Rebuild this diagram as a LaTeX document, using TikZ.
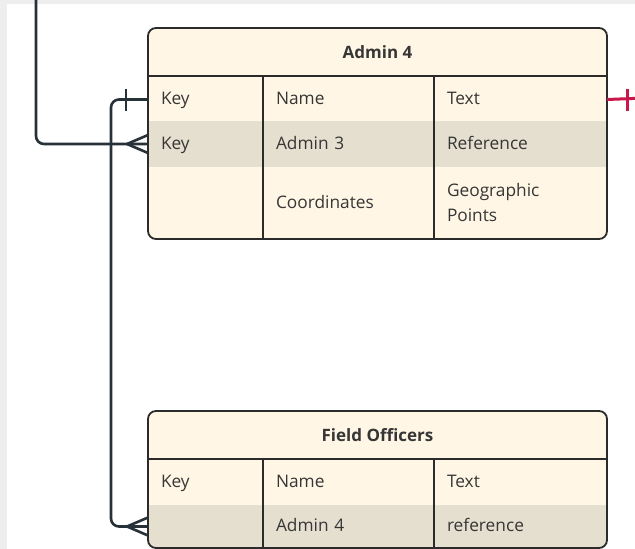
\documentclass[tikz,border=0pt]{standalone}
\usepackage{fontspec}
\setmainfont{Open Sans}
\usepackage{tikz}

\definecolor{cream}{HTML}{FFF6E5}
\definecolor{shade}{HTML}{E5DFCF}
\definecolor{edge}{HTML}{2B2B2B}
\definecolor{ink}{HTML}{363636}
\definecolor{wire}{HTML}{263238}
\definecolor{crimson}{HTML}{C8184B}
\definecolor{page}{HTML}{EEEEEE}

\newcommand{\crowfoot}[1]{%
  \draw [wire line] ([xshift=-21pt]#1.west) -- ([yshift=9pt]#1.west);
  \draw [wire line] ([xshift=-21pt]#1.west) -- ([yshift=-9pt]#1.west);}

\begin{document}
\begin{tikzpicture}[x=1pt, y=-1pt, font=\fontsize{17.3}{25}\selectfont,
  every node/.style={text=ink, inner sep=0pt, outer sep=0pt},
  frame/.style={rectangle, rounded corners=8pt, fill=cream, anchor=north west, minimum width=459pt},
  outline/.style={draw=edge, line width=1.8pt, rounded corners=8pt},
  rule/.style={draw=edge, line width=1.8pt},
  head/.style={rectangle, anchor=north west, minimum width=459pt, minimum height=48pt, font=\fontsize{17}{25}\selectfont\bfseries},
  cell/.style={rectangle, anchor=north west, inner xsep=13pt, align=left, execute at begin node=\strut},
  c1/.style={text width=89pt},
  c2/.style={text width=145pt},
  c3/.style={text width=147pt},
  wire line/.style={draw=wire, line width=2.6pt}]
  \useasboundingbox (0,0) rectangle (635,549);
  \clip (0,0) rectangle (635,549);
  \fill [page] (0,0) rectangle (635,549);
  \fill [white] (7,4) rectangle (640,560);

  \node (a4) [frame, minimum height=211pt] at (148,28) {};
  \node (a4head) [head] at (148,28) {Admin 4};
  \node (a4key1) [cell, c1, minimum height=45pt] at (148,77) {Key};
  \node (a4name) [cell, c2, minimum height=45pt] at (263,77) {Name};
  \node (a4text) [cell, c3, minimum height=45pt] at (434,77) {Text};
  \node (a4key2) [cell, c1, minimum height=46pt, fill=shade] at (148,121) {Key};
  \node (a4ref1) [cell, c2, minimum height=46pt, fill=shade] at (263,121) {Admin 3};
  \node (a4ref2) [cell, c3, minimum height=46pt, fill=shade] at (434,121) {Reference};
  \node (a4key3) [cell, c1, minimum height=72pt] at (148,167) {};
  \node (a4geo1) [cell, c2, minimum height=72pt] at (263,167) {Coordinates};
  \node (a4geo2) [cell, c3, minimum height=66pt] at (434,167) {Geographic\\Points};
  \draw [rule] (a4head.south west) -- (a4head.south east);
  \draw [rule] (a4key1.north east) -- (a4key3.south east);
  \draw [rule] (a4name.north east) -- (a4geo1.south east);
  \draw [outline] (a4.north west) rectangle (a4.south east);

  \node (fo) [frame, minimum height=137pt] at (148,411) {};
  \begin{scope}
    \clip [rounded corners=8pt] (fo.north west) rectangle (fo.south east);
    \node (fohead) [head] at (148,411) {Field Officers};
    \node (fokey1) [cell, c1, minimum height=46pt] at (148,459) {Key};
    \node (foname) [cell, c2, minimum height=46pt] at (263,459) {Name};
    \node (fotext) [cell, c3, minimum height=46pt] at (434,459) {Text};
    \node (fokey2) [cell, c1, minimum height=43pt, fill=shade] at (148,505) {};
    \node (foref1) [cell, c2, minimum height=43pt, fill=shade] at (263,505) {Admin 4};
    \node (foref2) [cell, c3, minimum height=43pt, fill=shade] at (434,505) {reference};
  \end{scope}
  \draw [rule] (fohead.south west) -- (fohead.south east);
  \draw [rule] (fokey1.north east) -- (fokey2.south east);
  \draw [rule] (foname.north east) -- (foref1.south east);
  \draw [outline] (fo.north west) rectangle (fo.south east);

  \coordinate (up) at (36,-5);
  \coordinate (off) at (645,98);
  \draw [wire line, rounded corners=8pt] (up) |- (a4key2.west);
  \crowfoot{a4key2}
  \draw [wire line, rounded corners=8pt] (a4key1.west) -- ++(-37,0) |- (fokey2.west);
  \draw [wire line] ([xshift=-22pt]a4key1.west) ++(0,-11) -- ++(0,22);
  \crowfoot{fokey2}
  \draw [draw=crimson, line width=3pt] (a4text.east) -- (off);
  \draw [draw=crimson, line width=3pt] ([xshift=20pt]a4text.east) ++(0,-11) -- ++(0,22);
\end{tikzpicture}
\end{document}
